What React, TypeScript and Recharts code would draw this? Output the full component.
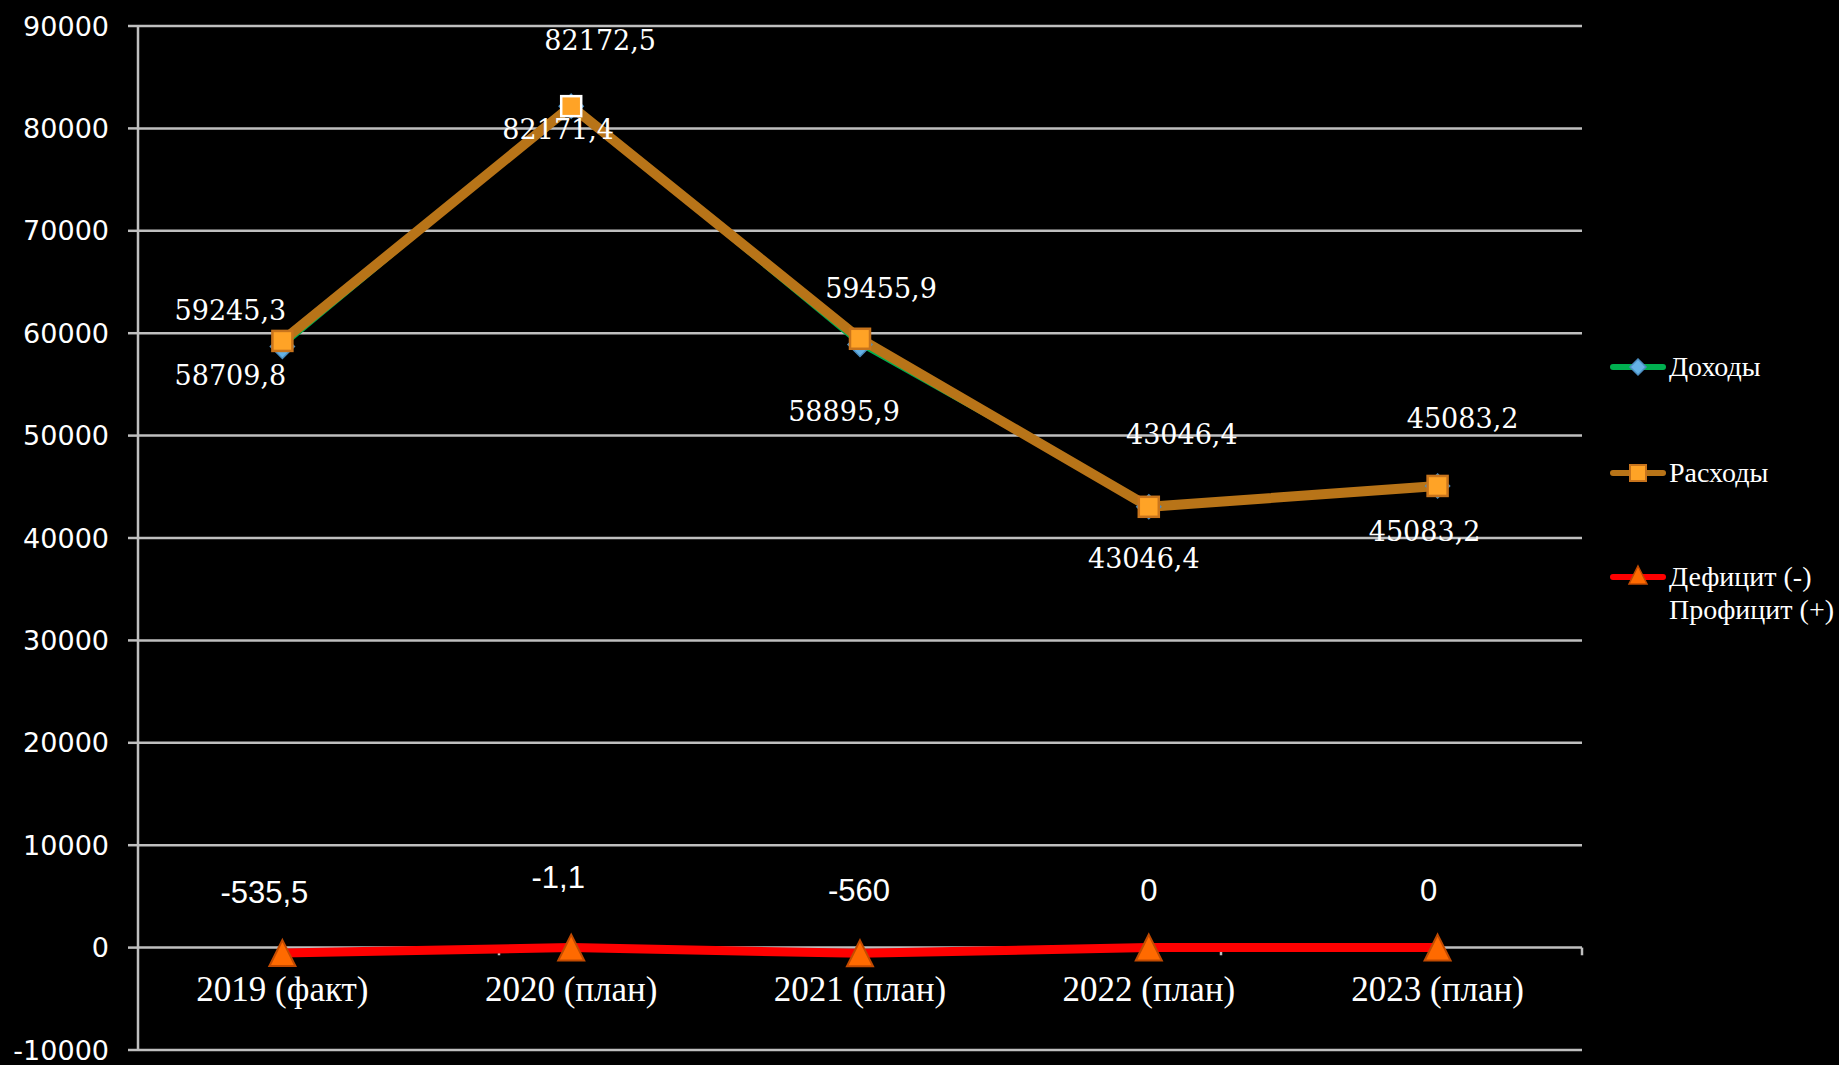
import React from 'react';
import { LineChart, Line, XAxis, YAxis, CartesianGrid, ReferenceLine, LabelList, Legend } from 'recharts';

const categories = ['2019 (факт)', '2020 (план)', '2021 (план)', '2022 (план)', '2023 (план)'];
const income = [58709.8, 82171.4, 58895.9, 43046.4, 45083.2];
const expenses = [59245.3, 82172.5, 59455.9, 43046.4, 45083.2];
const balance = [-535.5, -1.1, -560, 0, 0];
const yTicks = [-10000, 0, 10000, 20000, 30000, 40000, 50000, 60000, 70000, 80000, 90000];
const boundaryTicks = [1, 2, 3, 4, 5];
const seriesNames = ['Доходы', 'Расходы', 'Дефицит (-)\nПрофицит (+)'];

const data = categories.map((c, i) => ({
  cat: c,
  income: income[i],
  expenses: expenses[i],
  balance: balance[i],
}));

// label placement offsets (styling)
const incomeOffsets = [[-52, 29], [-13, 23], [-16, 67], [-5, 52], [-13, 46]];
const expenseOffsets = [[-52, -30], [29, -66], [21, -50], [33, -72], [25, -67]];
const balanceOffsets = [[-18, -61], [-13, -70], [-1, -63], [0, -57], [-9, -57]];

const fmt = (v: number) => String(v).replace('.', ',');

const GRID = '#bfbfbf';
const GREEN = '#00B050';
const BROWN = '#B87418';
const RED = '#FF0000';

const makeLabel = (offsets: number[][], font: string, size: number) => (props: any) => {
  const { x, y, value, index } = props;
  const o = offsets[index] || [0, 0];
  return (
    <text
      x={x + o[0]}
      y={y + o[1]}
      textAnchor="middle"
      dominantBaseline="central"
      fill="#ffffff"
      fontFamily={font}
      fontSize={size}
    >
      {fmt(value)}
    </text>
  );
};

const Diamond = (props: any) => {
  const { cx, cy } = props;
  if (cx == null || cy == null) return null;
  const rx = 12;
  const ry = 12;
  return (
    <polygon
      points={`${cx},${cy - ry} ${cx + rx},${cy} ${cx},${cy + ry} ${cx - rx},${cy}`}
      fill="#65B2E6"
      stroke="#4B8DC0"
      strokeWidth={1.5}
    />
  );
};

const Square = (props: any) => {
  const { cx, cy, index } = props;
  if (cx == null || cy == null) return null;
  const s = 20;
  return (
    <rect
      x={cx - s / 2}
      y={cy - s / 2}
      width={s}
      height={s}
      fill="#FFA326"
      stroke={index === 1 ? '#ffffff' : '#C8741C'}
      strokeWidth={2.5}
    />
  );
};

const Triangle = (props: any) => {
  const { cx, cy } = props;
  if (cx == null || cy == null) return null;
  return (
    <polygon
      points={`${cx},${cy - 13} ${cx + 13},${cy + 13} ${cx - 13},${cy + 13}`}
      fill="#FF6A00"
      stroke="#C24A00"
      strokeWidth={2}
    />
  );
};

const XTick = (props: any) => {
  const { x, y, payload } = props;
  return (
    <text x={x} y={y} dy={-49} textAnchor="middle" fill="#ffffff" fontFamily="Liberation Serif" fontSize={35}>
      {payload.value}
    </text>
  );
};

const legendIcon = (i: number) => {
  const colors = [GREEN, BROWN, RED];
  return (
    <svg width={58} height={26} style={{ display: 'block' }}>
      <line x1={4} y1={13} x2={54} y2={13} stroke={colors[i]} strokeWidth={6} strokeLinecap="round" />
      {i === 0 && <polygon points="29,5 37,13 29,21 21,13" fill="#65B2E6" stroke="#4B8DC0" strokeWidth={1.5} />}
      {i === 1 && <rect x={21} y={5} width={16} height={16} fill="#FFA326" stroke="#C8741C" strokeWidth={2} />}
      {i === 2 && <polygon points="29,2 38,20 20,20" fill="#FF6A00" stroke="#C24A00" strokeWidth={1.5} />}
    </svg>
  );
};

const LegendContent = () => {
  const tops = [32, 138, 242];
  return (
    <div style={{ position: 'relative', width: 230, height: 300 }}>
      {seriesNames.map((n, i) => (
        <div
          key={i}
          style={{
            position: 'absolute',
            left: 0,
            top: tops[i] - 16,
            display: 'flex',
            alignItems: 'flex-start',
          }}
        >
          <div style={{ marginTop: 3 }}>{legendIcon(i)}</div>
          <div
            style={{
              whiteSpace: 'pre',
              color: '#ffffff',
              fontFamily: 'Liberation Serif',
              fontSize: 28,
              lineHeight: '33px',
              marginLeft: 2,
              marginTop: -1,
            }}
          >
            {n}
          </div>
        </div>
      ))}
    </div>
  );
};

export default function App() {
  return (
    <div style={{ position: 'absolute', left: 0, top: 0, width: 1839, height: 1065, background: '#000000' }}>
      <LineChart
        width={1839}
        height={1065}
        data={data}
        margin={{ top: 26, right: 257, bottom: 5, left: 0 }}
      >
        <CartesianGrid horizontal vertical={false} stroke={GRID} strokeWidth={2.5} />
        <XAxis
          dataKey="cat"
          scale="band"
          height={10}
          axisLine={false}
          tickLine={false}
          tickSize={0}
          tickMargin={0}
          tick={<XTick />}
          interval={0}
        />
        <XAxis xAxisId="b" type="number" domain={[0, 5]} hide />
        <YAxis
          width={138}
          domain={[-10000, 90000]}
          ticks={yTicks}
          interval={0}
          axisLine={{ stroke: GRID, strokeWidth: 2.5 }}
          tickLine={{ stroke: GRID, strokeWidth: 2.5 }}
          tickSize={10}
          tickMargin={19}
          tick={{ fill: '#ffffff', fontSize: 27, fontFamily: 'DejaVu Sans' }}
        />
        {boundaryTicks.map((b) => (
          <ReferenceLine
            key={b}
            xAxisId="b"
            segment={[{ x: b, y: 0 }, { x: b, y: -750 }]}
            stroke={GRID}
            strokeWidth={2.5}
          />
        ))}
        <Line
          dataKey="income"
          name={seriesNames[0]}
          stroke={GREEN}
          strokeWidth={4}
          dot={<Diamond />}
          activeDot={false}
          isAnimationActive={false}
        >
          <LabelList dataKey="income" content={makeLabel(incomeOffsets, 'DejaVu Serif', 27)} />
        </Line>
        <Line
          dataKey="expenses"
          name={seriesNames[1]}
          stroke={BROWN}
          strokeWidth={10}
          dot={<Square />}
          activeDot={false}
          isAnimationActive={false}
        >
          <LabelList dataKey="expenses" content={makeLabel(expenseOffsets, 'DejaVu Serif', 27)} />
        </Line>
        <Line
          dataKey="balance"
          name={seriesNames[2]}
          stroke={RED}
          strokeWidth={9}
          dot={<Triangle />}
          activeDot={false}
          isAnimationActive={false}
        >
          <LabelList dataKey="balance" content={makeLabel(balanceOffsets, 'Liberation Sans', 31)} />
        </Line>
        <Legend
          layout="horizontal"
          verticalAlign="middle"
          align="center"
          content={<LegendContent />}
          wrapperStyle={{ left: 1609, top: 335, width: 230, height: 300 }}
        />
      </LineChart>
    </div>
  );
}
